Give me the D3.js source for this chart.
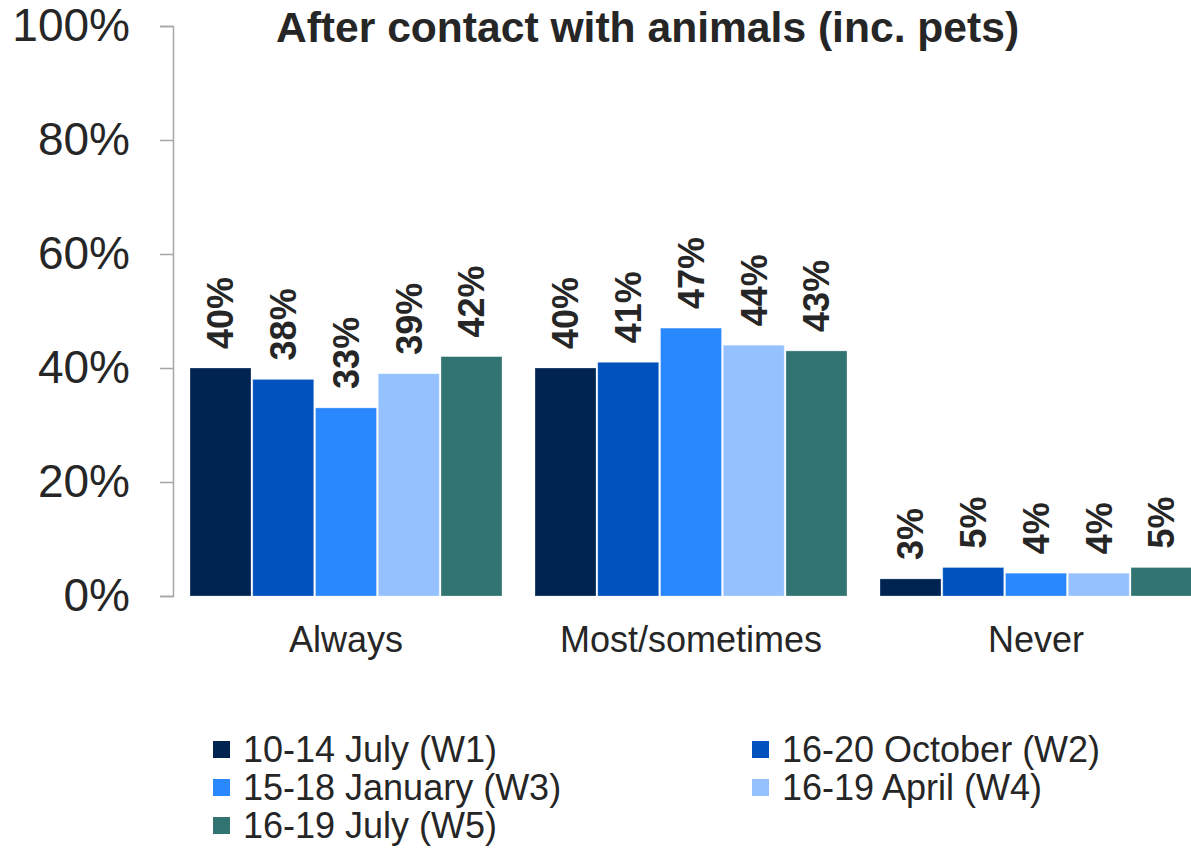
<!DOCTYPE html>
<html>
<head>
<meta charset="utf-8">
<script src="https://cdn.jsdelivr.net/npm/d3@7"></script>
<style>
  html, body { margin: 0; padding: 0; background: #fff; }
  svg { display: block; font-family: Arial, "Liberation Sans", sans-serif; }
</style>
</head>
<body>
<svg id="chart" width="1191" height="848"></svg>
<script>
const title = "After contact with animals (inc. pets)";
const categories = ["Always", "Most/sometimes", "Never"];
const seriesNames = ["10-14 July (W1)", "16-20 October (W2)", "15-18 January (W3)", "16-19 April (W4)", "16-19 July (W5)"];
const seriesColors = ["#002452", "#0053BF", "#2A88FF", "#95C2FF", "#317472"];
const w1 = [40, 40, 3];
const w2 = [38, 41, 5];
const w3 = [33, 47, 4];
const w4 = [39, 44, 4];
const w5 = [42, 43, 5];
const seriesValues = [w1, w2, w3, w4, w5];
const yTicks = [0, 20, 40, 60, 80, 100];

const svg = d3.select("#chart");
const textColor = "#262626";

const x0 = d3.scaleBand().domain(categories).range([173.5, 1208.5])
  .paddingInner(0.0957).paddingOuter(0.0957 / 2);
const x1 = d3.scaleBand().domain(seriesNames).range([0, x0.bandwidth()])
  .paddingInner(0.028).paddingOuter(0);
const y = d3.scaleLinear().domain([0, 100]).range([596, 26]);

// Title
svg.append("text")
  .attr("x", 647.5).attr("y", 42)
  .attr("text-anchor", "middle")
  .attr("font-size", 42.6).attr("font-weight", "bold")
  .attr("fill", textColor)
  .text(title);

// Y axis
const yAxis = d3.axisLeft(y).tickValues(yTicks).tickFormat(d => d + "%").tickSize(13).tickPadding(30);
const gy = svg.append("g").attr("transform", "translate(173,0)").call(yAxis);
gy.select(".domain").attr("stroke", "#a6a6a6").attr("stroke-width", 1.5);
gy.selectAll(".tick line").attr("stroke", "#a6a6a6").attr("stroke-width", 1.5);
gy.selectAll(".tick text").attr("font-size", 46).attr("fill", textColor)
  .attr("font-family", "Arial, 'Liberation Sans', sans-serif");

// Bars
const data = [];
categories.forEach((c, ci) => {
  seriesNames.forEach((s, si) => {
    data.push({ cat: c, series: s, value: seriesValues[si][ci], color: seriesColors[si] });
  });
});

const g = svg.append("g");
g.selectAll("rect.bar").data(data).enter().append("rect")
  .attr("class", "bar")
  .attr("x", d => x0(d.cat) + x1(d.series))
  .attr("y", d => y(d.value))
  .attr("width", x1.bandwidth())
  .attr("height", d => y(0) - y(d.value))
  .attr("fill", d => d.color)
  .attr("stroke", "#ffffff").attr("stroke-opacity", 0.35).attr("stroke-width", 0.8);

// Value labels
g.selectAll("text.val").data(data).enter().append("text")
  .attr("class", "val")
  .attr("transform", d => {
    const cx = x0(d.cat) + x1(d.series) + x1.bandwidth() / 2;
    const ty = y(d.value) - 19;
    return `translate(${cx},${ty}) rotate(-90)`;
  })
  .attr("dy", "0.36em")
  .attr("text-anchor", "start")
  .attr("font-size", 36).attr("font-weight", "bold")
  .attr("fill", textColor)
  .text(d => d.value + "%");

// Category labels
svg.selectAll("text.cat").data(categories).enter().append("text")
  .attr("class", "cat")
  .attr("x", d => x0(d) + x0.bandwidth() / 2)
  .attr("y", 652)
  .attr("text-anchor", "middle")
  .attr("font-size", 36)
  .attr("fill", textColor)
  .text(d => d);

// Legend
const legendCols = [213, 752];
const legendRows = [762, 800, 838];
seriesNames.forEach((s, i) => {
  const col = i % 2, row = Math.floor(i / 2);
  const lx = legendCols[col], ly = legendRows[row];
  svg.append("rect")
    .attr("x", lx).attr("y", ly - 21)
    .attr("width", 17).attr("height", 17)
    .attr("fill", seriesColors[i]);
  svg.append("text")
    .attr("x", lx + 30).attr("y", ly)
    .attr("font-size", 36)
    .attr("fill", textColor)
    .text(s);
});
</script>
</body>
</html>
